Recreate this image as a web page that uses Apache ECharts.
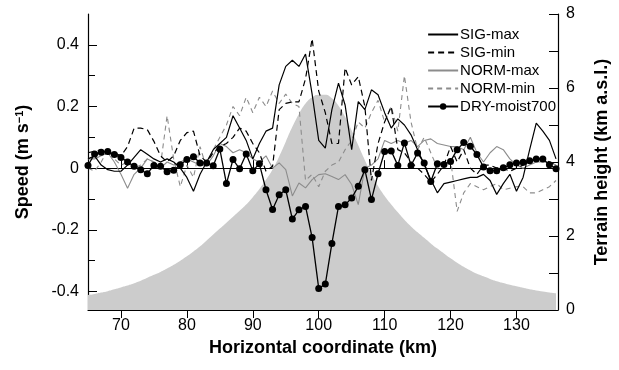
<!DOCTYPE html>
<html><head><meta charset="utf-8">
<script src="https://cdn.jsdelivr.net/npm/echarts@6/dist/echarts.min.js"></script>
<style>html,body{margin:0;padding:0;background:#fff}#c{width:619px;height:370px}</style>
</head><body><div id="c"></div>
<script>
// x positions (km)
const km = [];
for (let k = 65; k <= 136; k++) km.push(k);

const sigMax = [0.03,0.04,0.01,-0.005,-0.01,-0.01,0.01,0.035,0.06,0.045,0.03,0.02,0.03,0.02,0.0,-0.03,-0.075,-0.02,0.02,0.06,0.08,0.1,0.17,0.13,0.09,0.03,0.08,0.12,0.13,0.27,0.33,0.35,0.33,0.37,0.24,0.09,0.065,0.19,0.276,0.205,0.06,0.216,0.19,0.254,0.238,0.18,0.13,0.16,0.14,0.108,0.06,0.011,-0.037,-0.08,-0.05,-0.045,-0.04,-0.035,-0.03,-0.03,-0.02,-0.04,-0.085,-0.05,-0.02,-0.075,-0.03,0.06,0.146,0.12,0.09,0.03];
const sigMin = [0.05,0.055,0.06,0.045,0.05,0.04,0.07,0.13,0.13,0.125,0.087,0.04,0.02,0.04,0.09,0.115,0.12,0.04,0.02,0.05,0.07,0.08,0.1,0.13,0.12,0.08,0.05,-0.01,0.006,0.19,0.21,0.215,0.215,0.29,0.42,0.25,0.18,0.08,0.08,0.325,0.27,0.297,0.2,-0.04,0.08,0.15,0.2,0.06,0.05,0.02,0.0,-0.02,-0.045,-0.02,0.01,0.07,0.02,0.06,0.0,-0.02,0.01,0.01,0.0,0.0,-0.01,0.0,0.01,0.02,0.03,0.03,0.02,0.01];
const normMax = [0.03,0.03,0.04,0.05,0.02,-0.02,-0.065,-0.02,0.0,0.03,0.02,0.0,0.02,0.01,0.02,0.03,0.02,0.01,0.01,0.04,0.08,0.07,0.05,0.06,0.05,0.03,0.02,0.04,0.0,0.017,-0.005,-0.09,-0.048,-0.064,-0.037,-0.021,-0.018,-0.027,-0.037,-0.021,-0.053,-0.118,0.0,0.01,0.03,0.09,0.08,0.09,0.08,0.09,0.07,0.09,0.095,0.08,0.075,0.07,0.07,0.06,0.1,0.05,0.02,0.05,0.07,0.06,0.03,0.01,0.0,0.01,0.02,0.02,0.02,0.01];
const normMin = [0.0,-0.01,0.02,0.06,0.03,0.01,0.02,0.0,0.01,0.03,0.02,0.01,0.17,0.03,-0.06,0.01,-0.03,0.07,0.0,0.06,0.1,0.14,0.2,0.17,0.23,0.18,0.23,0.2,0.25,0.21,0.24,0.21,0.2,-0.04,-0.02,-0.06,-0.01,0.01,0.02,0.06,0.09,0.15,0.13,0.18,0.22,0.15,0.2,0.12,0.3,0.15,0.06,0.1,0.05,0.0,0.02,0.03,-0.14,-0.08,-0.05,-0.06,-0.07,-0.06,-0.05,-0.07,-0.065,-0.06,-0.06,-0.08,-0.08,-0.07,-0.06,-0.04];
const dryMoist = [0.009,0.046,0.052,0.054,0.044,0.035,0.02,0.006,-0.005,-0.018,0.009,0.006,-0.012,-0.007,0.011,0.028,0.037,0.017,0.017,0.008,0.062,-0.05,0.028,-0.002,0.046,-0.008,0.014,-0.07,-0.134,-0.086,-0.07,-0.165,-0.135,-0.124,-0.225,-0.39,-0.376,-0.244,-0.124,-0.119,-0.097,-0.059,-0.005,-0.102,-0.018,0.054,0.056,0.009,0.082,0.009,0.049,0.017,-0.043,0.014,0.012,0.022,0.06,0.083,0.071,0.044,0.004,-0.008,-0.008,0.001,0.011,0.017,0.019,0.024,0.03,0.03,0.011,-0.002];
const terrain = [0.40,0.43,0.47,0.51,0.56,0.61,0.66,0.72,0.79,0.87,0.95,1.03,1.12,1.22,1.33,1.45,1.58,1.72,1.88,2.04,2.20,2.36,2.52,2.68,2.85,3.05,3.27,3.52,3.80,4.15,4.55,4.95,5.30,5.58,5.75,5.82,5.82,5.72,5.52,5.22,4.85,4.45,4.05,3.68,3.35,3.08,2.85,2.64,2.44,2.26,2.10,1.95,1.80,1.66,1.53,1.40,1.28,1.17,1.07,0.98,0.91,0.84,0.78,0.73,0.68,0.64,0.60,0.56,0.53,0.50,0.47,0.45];

const xTicks = [70,80,90,100,110,120,130];
const speedTicks = [-0.4,-0.2,0,0.2,0.4];
const speedMinor = [-0.3,-0.1,0.1,0.3];
const names = ['SIG-max','SIG-min','NORM-max','NORM-min','DRY-moist700'];

const pair = arr => km.map((k,i)=>[k,arr[i]]);
const FONT = 'Liberation Sans, Arial, Helvetica, sans-serif';

const legendData = names.map(n => n === 'DRY-moist700' ? {name:n} : {name:n, itemStyle:{opacity:0}});

const chart = echarts.init(document.getElementById('c'), null, {renderer:'canvas'});
chart.setOption({
  animation:false,
  textStyle:{fontFamily:FONT,color:'#000'},
  grid:{left:88,right:51,top:14,bottom:60},
  legend:{
    data:legendData, orient:'vertical', right:58, top:22, itemWidth:30, itemHeight:8, itemGap:3,
    textStyle:{fontFamily:FONT,fontSize:15,color:'#000',padding:[0,0,0,-3]}
  },
  xAxis:[{
    type:'value', min:65, max:136.3, position:'bottom',
    name:'Horizontal coordinate (km)', nameLocation:'middle', nameGap:29,
    nameTextStyle:{fontFamily:FONT,fontSize:18,fontWeight:'bold',color:'#000'},
    axisLine:{lineStyle:{color:'#000',width:1.2}},
    axisTick:{inside:true,length:8,customValues:xTicks,lineStyle:{color:'#000'}},
    axisLabel:{customValues:xTicks,fontSize:16,color:'#000',margin:8,fontFamily:FONT},
    splitLine:{show:false}
  },{
    type:'value', min:65, max:136.3, position:'top',
    axisLine:{lineStyle:{color:'#000',width:1.2}},
    axisTick:{inside:true,length:8,customValues:xTicks,lineStyle:{color:'#000'}},
    axisLabel:{show:false}, splitLine:{show:false}
  }],
  yAxis:[{
    type:'value', min:-0.46, max:0.5, position:'left',
    name:'Speed (m s{sup|−1})', nameLocation:'middle', nameGap:55, nameRotate:90,
    nameTextStyle:{fontFamily:FONT,fontSize:18,fontWeight:'bold',color:'#000',
      rich:{sup:{fontSize:11,fontWeight:'bold',verticalAlign:'top',padding:[0,0,8,0],fontFamily:FONT}}},
    axisLine:{show:true,lineStyle:{color:'#000',width:1.2}},
    axisTick:{inside:true,length:9,customValues:speedTicks,lineStyle:{color:'#000'}},
    axisLabel:{customValues:speedTicks,fontSize:16,color:'#000',margin:9,fontFamily:FONT,
      formatter:v=>String(Math.round(v*10)/10)},
    splitLine:{show:false}
  },{
    type:'value', min:0, max:8, interval:2, position:'right',
    name:'Terrain height (km a.s.l.)', nameLocation:'middle', nameGap:35, nameRotate:90,
    nameTextStyle:{fontFamily:FONT,fontSize:18,fontWeight:'bold',color:'#000'},
    axisLine:{show:true,lineStyle:{color:'#000',width:1.2}},
    axisTick:{inside:true,length:9,lineStyle:{color:'#000'}},
    minorTick:{show:true,splitNumber:2,length:9,lineStyle:{color:'#000'}},
    axisLabel:{fontSize:16,color:'#000',margin:8,fontFamily:FONT},
    splitLine:{show:false}
  },{
    type:'value', min:-0.46, max:0.5, position:'left',
    axisLine:{show:false},
    axisTick:{inside:true,length:7,customValues:speedMinor,lineStyle:{color:'#000'}},
    axisLabel:{show:false}, splitLine:{show:false}
  }],
  series:[
    {name:'terrain',type:'line',yAxisIndex:1,data:pair(terrain),smooth:true,symbol:'none',
     lineStyle:{width:0},areaStyle:{color:'#cccccc',opacity:1},z:1,silent:true},
    {name:'NORM-min',type:'line',data:pair(normMin),symbol:'none',
     lineStyle:{color:'#8c8c8c',width:1.1,type:[5,4]},itemStyle:{color:'#8c8c8c'},z:3},
    {name:'NORM-max',type:'line',data:pair(normMax),symbol:'none',
     lineStyle:{color:'#8c8c8c',width:1.1},itemStyle:{color:'#8c8c8c'},z:3},
    {name:'SIG-min',type:'line',data:pair(sigMin),symbol:'none',
     lineStyle:{color:'#000',width:1.2,type:[6,4]},itemStyle:{color:'#000'},z:4},
    {name:'SIG-max',type:'line',data:pair(sigMax),symbol:'none',
     lineStyle:{color:'#000',width:1.2},itemStyle:{color:'#000'},z:4},
    {name:'DRY-moist700',type:'line',data:pair(dryMoist),symbol:'circle',symbolSize:7,clip:false,
     lineStyle:{color:'#000',width:1.3},itemStyle:{color:'#000'},z:5}
  ]
});
</script></body></html>
